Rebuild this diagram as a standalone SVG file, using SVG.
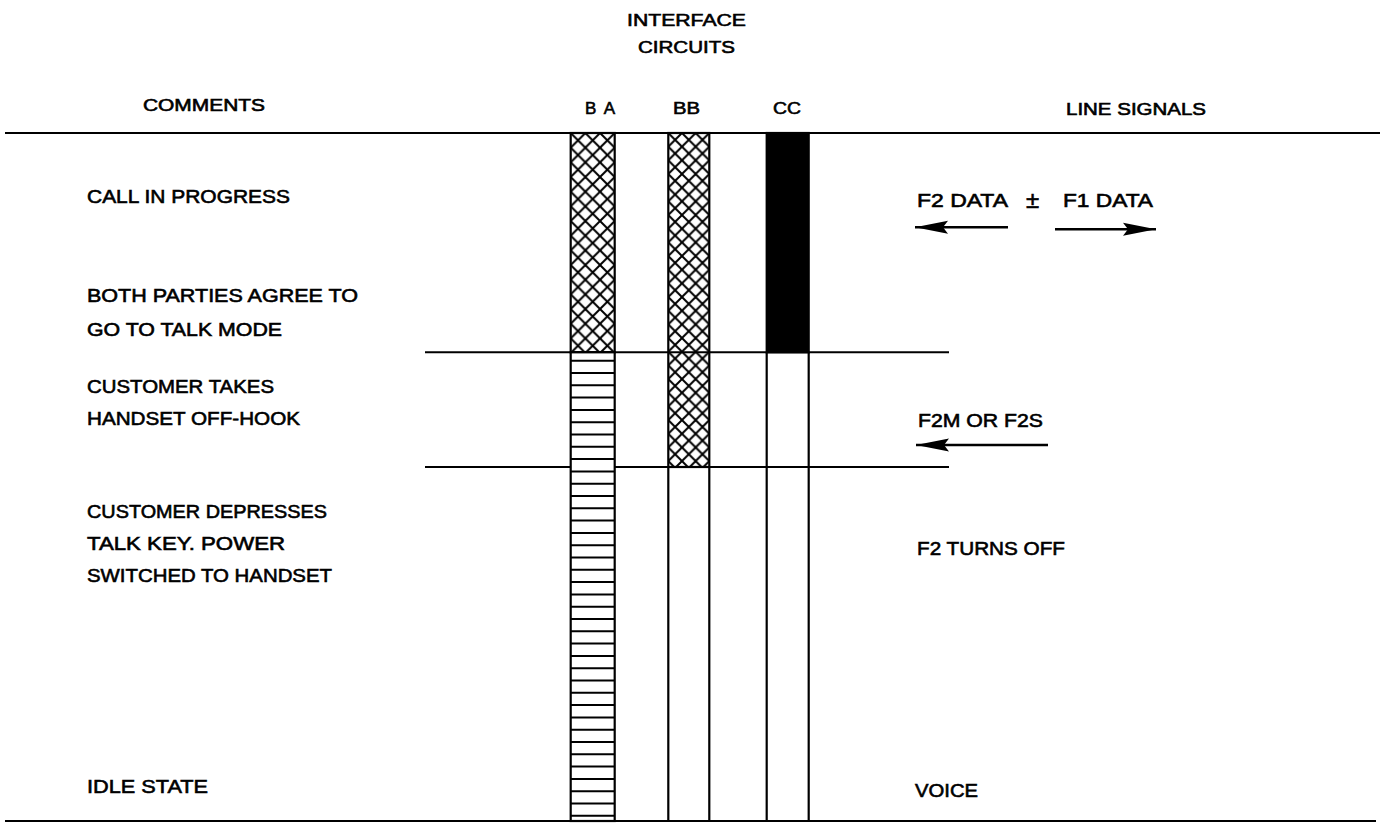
<svg xmlns="http://www.w3.org/2000/svg" width="1380" height="825" viewBox="0 0 1380 825">
<style>
text{font-family:"Liberation Sans",Arial,sans-serif;fill:#000;stroke:#000;stroke-width:0.6}
.h{font-size:17px}
.b{font-size:19px}
.ln{stroke:#000;stroke-width:2;fill:none}
.col{stroke:#000;stroke-width:2.2}
.arr{stroke:#000;stroke-width:2.6;fill:none;marker-end:url(#ah)}
</style>
<defs>
<pattern id="xh" patternUnits="userSpaceOnUse" x="570.7" y="133" width="14.67" height="14.67">
<path d="M0,0 L14.67,14.67 M14.67,0 L0,14.67 M-1,13.67 L1,15.67 M13.67,-1 L15.67,1" stroke="#000" stroke-width="2"/>
</pattern>
<pattern id="xh2" patternUnits="userSpaceOnUse" x="668.3" y="133" width="13.67" height="13.67">
<path d="M0,0 L13.67,13.67 M13.67,0 L0,13.67" stroke="#000" stroke-width="2"/>
</pattern>
<marker id="ah" markerUnits="userSpaceOnUse" markerWidth="36" markerHeight="16" refX="33" refY="8" orient="auto">
<path d="M0,1.5 L33,8 L0,14.5 L5,8 z" fill="#000"/>
</marker>
</defs>

<g id="rules">
<line class="ln" x1="5" y1="133" x2="1380" y2="133"/>
<line class="ln" x1="5" y1="821" x2="1376" y2="821"/>
<line class="ln" x1="425" y1="352.3" x2="949" y2="352.3"/>
<line class="ln" x1="425" y1="467" x2="949" y2="467"/>
</g>

<g id="headers">
<text class="h" x="627" y="26" textLength="119" lengthAdjust="spacingAndGlyphs">INTERFACE</text>
<text class="h" x="638" y="53" textLength="97" lengthAdjust="spacingAndGlyphs">CIRCUITS</text>
<text class="h" x="143" y="111" textLength="122" lengthAdjust="spacingAndGlyphs">COMMENTS</text>
<text class="h" x="585" y="114" textLength="30" lengthAdjust="spacing">BA</text>
<text class="h" x="673" y="114" textLength="27" lengthAdjust="spacingAndGlyphs">BB</text>
<text class="h" x="773" y="114" textLength="28" lengthAdjust="spacingAndGlyphs">CC</text>
<text class="h" x="1066" y="115" textLength="140" lengthAdjust="spacingAndGlyphs">LINE SIGNALS</text>
</g>

<g id="col-BA">
<rect x="570.7" y="133" width="44" height="219.3" class="col" style="fill:url(#xh)"/>
<rect x="570.7" y="352.3" width="44" height="468.7" class="col" style="fill:#fff"/>
<path class="ln" stroke-width="1.8" d="M570.7,360.7h44M570.7,373h44M570.7,385.3h44M570.7,397.6h44M570.7,409.9h44M570.7,422.2h44M570.7,434.5h44M570.7,446.8h44M570.7,459.1h44M570.7,471.4h44M570.7,483.7h44M570.7,496h44M570.7,508.3h44M570.7,520.6h44M570.7,532.9h44M570.7,545.2h44M570.7,557.5h44M570.7,569.8h44M570.7,582.1h44M570.7,594.4h44M570.7,606.7h44M570.7,619h44M570.7,631.3h44M570.7,643.6h44M570.7,655.9h44M570.7,668.2h44M570.7,680.5h44M570.7,692.8h44M570.7,705.1h44M570.7,717.4h44M570.7,729.7h44M570.7,742h44M570.7,754.3h44M570.7,766.6h44M570.7,778.9h44M570.7,791.2h44M570.7,803.5h44M570.7,815.8h44"/>
</g>

<g id="col-BB">
<rect x="668.3" y="133" width="41" height="334" class="col" style="fill:url(#xh2)"/>
<line class="col" x1="668.3" y1="467" x2="668.3" y2="821"/>
<line class="col" x1="709.3" y1="467" x2="709.3" y2="821"/>
</g>

<g id="col-CC">
<rect x="766.7" y="133" width="42" height="219.3" class="col" style="fill:#000"/>
<line class="col" x1="766.7" y1="352.3" x2="766.7" y2="821"/>
<line class="col" x1="808.7" y1="352.3" x2="808.7" y2="821"/>
</g>

<g id="comments">
<text class="b" x="87" y="203" textLength="203" lengthAdjust="spacingAndGlyphs">CALL IN PROGRESS</text>
<text class="b" x="87" y="302" textLength="271" lengthAdjust="spacingAndGlyphs">BOTH PARTIES AGREE TO</text>
<text class="b" x="87" y="336" textLength="195" lengthAdjust="spacingAndGlyphs">GO TO TALK MODE</text>
<text class="b" x="87" y="393" textLength="187" lengthAdjust="spacingAndGlyphs">CUSTOMER TAKES</text>
<text class="b" x="87" y="425" textLength="213" lengthAdjust="spacingAndGlyphs">HANDSET OFF-HOOK</text>
<text class="b" x="87" y="518" textLength="240" lengthAdjust="spacingAndGlyphs">CUSTOMER DEPRESSES</text>
<text class="b" x="87" y="550" textLength="198" lengthAdjust="spacingAndGlyphs">TALK KEY. POWER</text>
<text class="b" x="87" y="582" textLength="245" lengthAdjust="spacingAndGlyphs">SWITCHED TO HANDSET</text>
<text class="b" x="87" y="793" textLength="121" lengthAdjust="spacingAndGlyphs">IDLE STATE</text>
</g>

<g id="signals">
<text class="b" x="917" y="207" textLength="91" lengthAdjust="spacingAndGlyphs">F2 DATA</text>
<text x="1026" y="208" style="font-size:24px">±</text>
<text class="b" x="1063" y="207" textLength="90" lengthAdjust="spacingAndGlyphs">F1 DATA</text>
<text class="b" x="918" y="427" textLength="125" lengthAdjust="spacingAndGlyphs">F2M OR F2S</text>
<text class="b" x="917" y="555" textLength="148" lengthAdjust="spacingAndGlyphs">F2 TURNS OFF</text>
<text class="b" x="915" y="797" textLength="63" lengthAdjust="spacingAndGlyphs">VOICE</text>
</g>

<g id="connectors">
<line class="arr" x1="1008" y1="227.3" x2="915" y2="227.3"/>
<line class="arr" x1="1055" y1="229.3" x2="1156" y2="229.3"/>
<line class="arr" x1="1048" y1="445" x2="916" y2="445"/>
</g>
</svg>
